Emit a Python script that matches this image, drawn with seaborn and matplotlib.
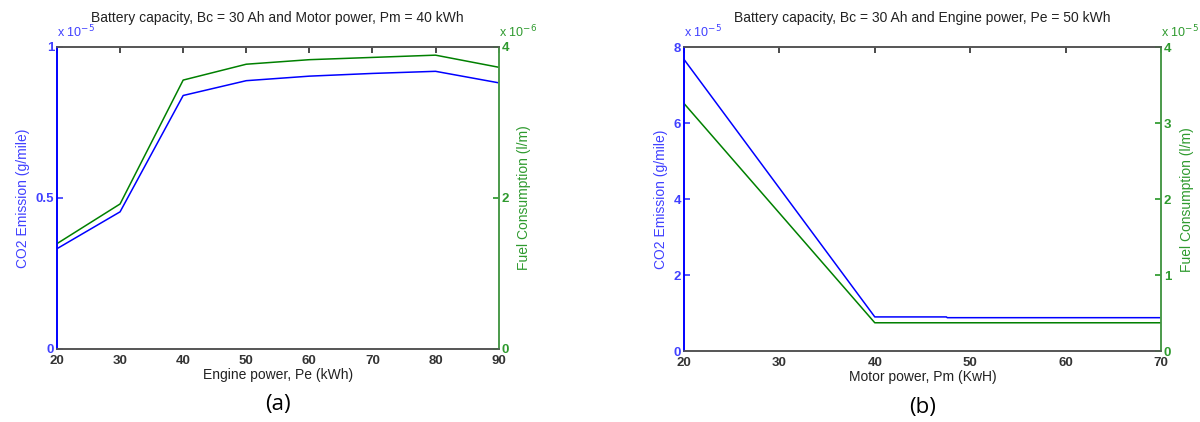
import pandas as pd
import matplotlib
matplotlib.use('Agg')
import matplotlib.pyplot as plt
import seaborn as sns

sns.set_theme(style="white")
plt.rcParams['font.family'] = ['Liberation Sans', 'DejaVu Sans']

# (a) engine power sweep
pe = [20, 30, 40, 50, 60, 70, 80, 90]
co2_a = [0.332, 0.454, 0.839, 0.888, 0.903, 0.912, 0.919, 0.881]   # x 1e-5
fuel_a = [1.395, 1.92, 3.56, 3.77, 3.83, 3.86, 3.89, 3.73]          # x 1e-6

# (b) motor power sweep
pm_co2 = [20, 40, 47.5, 47.6, 70]
co2_b = [7.68, 0.90, 0.90, 0.88, 0.88]     # x 1e-5
pm_fuel = [20, 40, 70]
fuel_b = [3.26, 0.373, 0.373]              # x 1e-5

BLUE = '#0000ff'
GREEN = '#008000'
BLUE_TXT = '#4040ff'
GREEN_TXT = '#2e9a2e'

fig = plt.figure(figsize=(12, 4.22), dpi=100)


def panel(rect, x1, y1, x2, y2, xlim, xticks, yl1, yt1, yl2, yt2,
          exp1, exp2, title, xlabel, caption):
    ax = fig.add_axes(rect)
    sns.lineplot(x=x1, y=y1, ax=ax, color=BLUE, linewidth=1.1)
    ax2 = ax.twinx()
    sns.lineplot(x=x2, y=y2, ax=ax2, color=GREEN, linewidth=1.1)
    ax.set_xlim(*xlim)
    ax.set_ylim(*yl1)
    ax2.set_ylim(*yl2)
    ax.set_xticks(xticks)
    ax.set_yticks(yt1)
    ax2.set_yticks(yt2)
    ax.set_yticklabels([f'{v:g}' for v in yt1])
    ax2.set_yticklabels([f'{v:g}' for v in yt2])
    ax.tick_params(axis='x', direction='in', top=True, length=4, labelsize=9.5,
                   colors='#333333', pad=4)
    for lab in ax.get_xticklabels():
        lab.set_fontweight('bold')
    ax.tick_params(axis='y', direction='in', length=4, labelsize=9.5,
                   colors=BLUE_TXT, pad=2)
    ax2.tick_params(axis='y', direction='in', length=4, labelsize=9.5,
                    colors=GREEN_TXT, pad=2)
    for lab in ax.get_yticklabels() + ax2.get_yticklabels():
        lab.set_fontweight('bold')
    for a in (ax, ax2):
        a.spines['top'].set_color('#555555')
        a.spines['bottom'].set_color('#555555')
        a.spines['left'].set_color(BLUE)
        a.spines['right'].set_color('#4a9a4a')
        for s in a.spines.values():
            s.set_linewidth(1.2)
    ax.set_xlabel(xlabel, fontsize=10, color='#222222', labelpad=1)
    ax.set_ylabel('CO2 Emission (g/mile)', fontsize=10, color=BLUE_TXT, labelpad=4)
    ax2.set_ylabel('Fuel Consumption (l/m)', fontsize=10, color=GREEN_TXT, labelpad=6)
    ax.set_title(title, fontsize=10, color='#222222', pad=18)
    ax.text(0.0, 1.022, r'x 10$^{%d}$' % exp1, transform=ax.transAxes,
            fontsize=9, color=BLUE_TXT, ha='left', va='bottom')
    ax.text(1.0, 1.022, r'x 10$^{%d}$' % exp2, transform=ax.transAxes,
            fontsize=9, color=GREEN_TXT, ha='left', va='bottom')
    ax.text(0.5, -0.185, caption, transform=ax.transAxes, fontsize=16,
            color='black', ha='center', va='center',
            family=['Open Sans', 'DejaVu Sans'])
    return ax


panel([0.0475, 0.173, 0.368, 0.716], pe, co2_a, pe, fuel_a, (20, 90),
      pe, (0, 1), [0, 0.5, 1], (0, 4), [0, 2, 4], -5, -6,
      'Battery capacity, Bc = 30 Ah and Motor power, Pm = 40 kWh',
      'Engine power, Pe (kWh)', '(a)')

panel([0.57, 0.168, 0.3975, 0.72], pm_co2, co2_b, pm_fuel, fuel_b, (20, 70),
      [20, 30, 40, 50, 60, 70], (0, 8), [0, 2, 4, 6, 8], (0, 4),
      [0, 1, 2, 3, 4], -5, -5,
      'Battery capacity, Bc = 30 Ah and Engine power, Pe = 50 kWh',
      'Motor power, Pm (KwH)', '(b)')

fig.savefig('out.png', dpi=100)
